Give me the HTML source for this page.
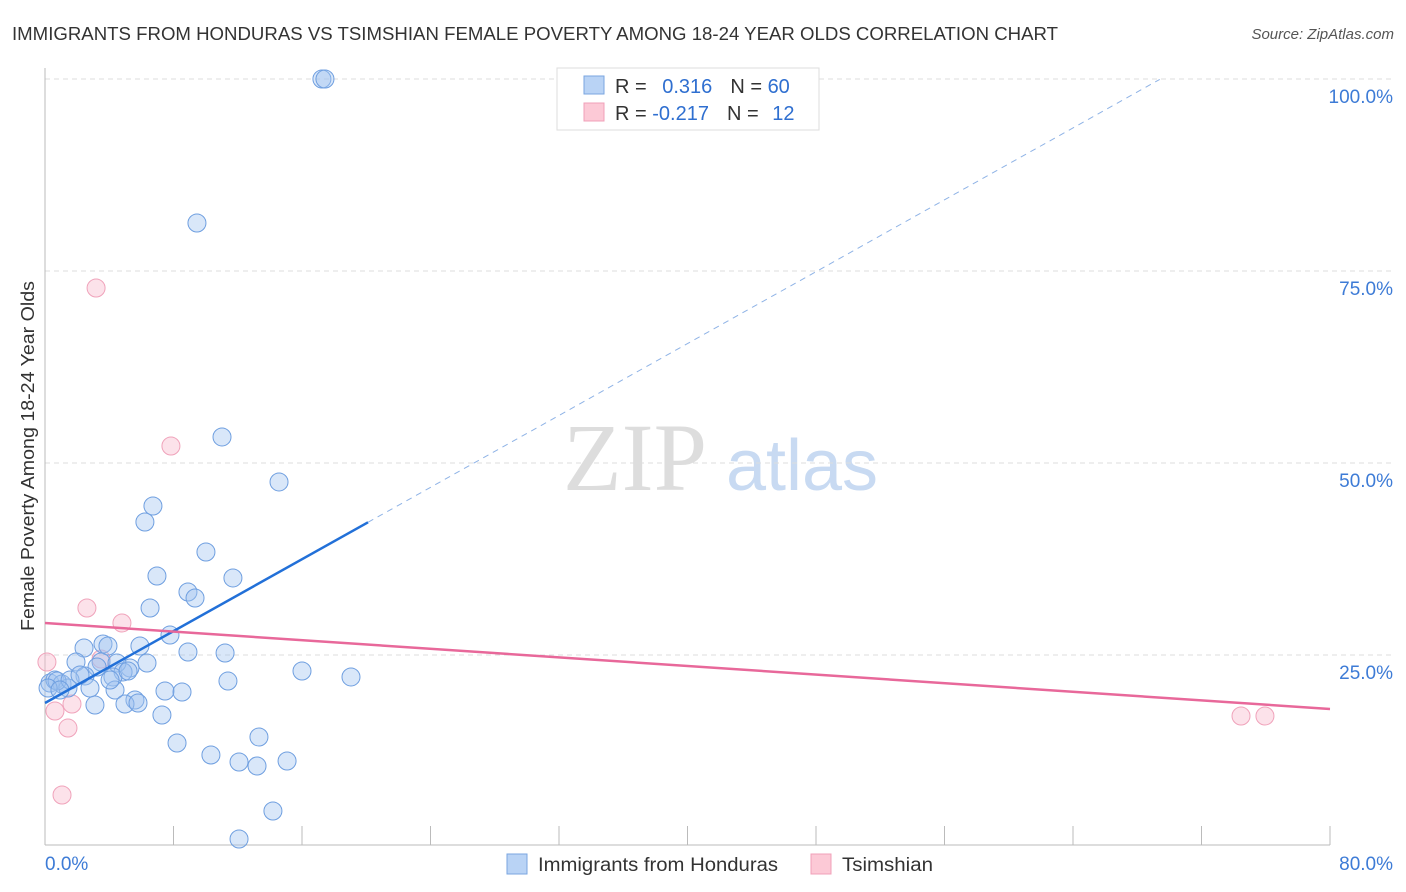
<!DOCTYPE html>
<html><head><meta charset="utf-8"><style>
body{margin:0;background:#fff;font-family:"Liberation Sans",sans-serif;}
</style></head><body>
<svg id="chart" width="1406" height="892" xmlns="http://www.w3.org/2000/svg" style="display:block">
<text x="12" y="40" font-size="18" fill="#333" textLength="1046" lengthAdjust="spacingAndGlyphs">IMMIGRANTS FROM HONDURAS VS TSIMSHIAN FEMALE POVERTY AMONG 18-24 YEAR OLDS CORRELATION CHART</text>
<text x="1394" y="39" font-size="15" fill="#555" font-style="italic" text-anchor="end">Source: ZipAtlas.com</text>
<text x="635" y="490" font-size="96" fill="#ddd" font-family="Liberation Serif" text-anchor="middle">ZIP</text>
<text x="802" y="490" font-size="72" fill="#c8daf2" text-anchor="middle">atlas</text>
<g id="grid"></g><g id="axes"></g><g id="marks"></g>
<text transform="translate(34,456) rotate(-90)" font-size="18" fill="#333" text-anchor="middle" textLength="350" lengthAdjust="spacingAndGlyphs">Female Poverty Among 18-24 Year Olds</text>
<g>
<rect x="557" y="68" width="262" height="62" fill="#fff" stroke="#ddd"/>
<rect x="584" y="76" width="20" height="18" fill="#b9d3f5" stroke="#7aa6e0"/>
<rect x="584" y="103" width="20" height="18" fill="#fcc9d6" stroke="#f0a0b8"/>
<text x="615" y="93" font-size="20" fill="#333">R = <tspan fill="#2f6fd0" dx="10">0.316</tspan><tspan dx="18" fill="#333">N = </tspan><tspan fill="#2f6fd0">60</tspan></text>
<text x="615" y="120" font-size="20" fill="#333">R = <tspan fill="#2f6fd0">-0.217</tspan><tspan dx="18" fill="#333">N = </tspan><tspan fill="#2f6fd0" dx="8">12</tspan></text>
</g>
<g>
<rect x="507" y="854" width="20" height="20" fill="#b9d3f5" stroke="#7aa6e0"/>
<text x="538" y="871" font-size="19" fill="#333" textLength="240" lengthAdjust="spacingAndGlyphs">Immigrants from Honduras</text>
<rect x="811" y="854" width="20" height="20" fill="#fcc9d6" stroke="#f0a0b8"/>
<text x="842" y="871" font-size="19" fill="#333" textLength="91" lengthAdjust="spacingAndGlyphs">Tsimshian</text>
</g>
</svg>
<script>
const blueX=[17.24,17.43,9.46,11.02,14.57,6.72,6.22,10.02,11.70,6.97,8.90,9.34,6.54,7.78,5.91,2.43,3.61,3.92,8.90,11.21,1.93,3.49,6.35,5.29,4.48,4.86,3.24,2.49,4.23,5.17,16.00,19.05,11.39,0.31,0.62,1.06,1.43,0.75,0.19,2.80,4.36,7.47,8.53,5.60,4.98,5.79,3.11,7.28,8.22,10.33,13.32,12.08,13.20,15.07,14.19,12.08,1.56,0.93,4.05,2.18];
const blueY=[100,100,81.25,53.39,47.53,44.40,42.32,38.41,35.03,35.29,33.20,32.42,31.12,27.60,26.17,25.91,26.43,26.17,25.39,25.26,24.09,24.09,23.96,23.31,23.96,22.79,23.44,22.27,22.14,22.92,22.92,22.14,21.61,21.35,21.74,21.22,20.70,21.61,20.70,20.70,20.44,20.31,20.18,19.14,18.62,18.75,18.49,17.19,13.54,11.98,14.32,11.07,10.55,11.20,4.69,1.04,21.74,20.44,21.74,22.40];
const pinkX=[3.18,7.84,2.61,4.79,0.12,3.49,0.62,1.68,1.43,1.06,74.46,75.95];
const pinkY=[72.79,52.21,31.12,29.17,24.09,24.48,17.71,18.62,15.49,6.77,17.06,17.06];
const yTicks=[25,50,75,100];
const yTickLabels=["25.0%","50.0%","75.0%","100.0%"];
const blueTrend=[18.75,1.17]; // intercept, slope
const pinkTrend=[29.17,-0.14];
const blueSolidEnd=20.11, blueDashEnd=69.4;
const xs=v=>45+v/80*1285, ys=v=>847-v*7.68;
const NS="http://www.w3.org/2000/svg";
function mk(tag,attrs,parent){const e=document.createElementNS(NS,tag);for(const k in attrs)e.setAttribute(k,attrs[k]);parent.appendChild(e);return e;}
const grid=document.getElementById('grid'),axes=document.getElementById('axes'),marks=document.getElementById('marks');
yTicks.forEach((t,i)=>{
 const l=mk('line',{x1:45,x2:1395,y1:ys(t),y2:ys(t),stroke:'#ddd','stroke-dasharray':'5,4'},grid);
 
 
 const tx=mk('text',{x:1393,y:ys(t)+24,'font-size':19,fill:'#3d7bd6','text-anchor':'end'},axes);
 tx.textContent=yTickLabels[i];
 
 
});
const la=mk('line',{x1:45,x2:45,y1:68,y2:845,stroke:'#bbb'},axes);


const ba=mk('line',{x1:45,x2:1330,y1:845,y2:845,stroke:'#bbb'},axes);


for(let v=0;v<=80;v+=8){
 const t=mk('line',{x1:xs(v),x2:xs(v),y1:826,y2:845,stroke:'#bbb'},axes);
 
 
}
const x0=mk('text',{x:45,y:870,'font-size':19,fill:'#3d7bd6'},axes);x0.textContent='0.0%';


const x1=mk('text',{x:1393,y:870,'font-size':19,fill:'#3d7bd6','text-anchor':'end'},axes);x1.textContent='80.0%';


pinkX.forEach((x,i)=>{
 const c=mk('circle',{cx:xs(x),cy:ys(pinkY[i]),r:9,fill:'rgba(248,182,202,0.4)',stroke:'#f0a3bb','stroke-width':1},marks);
 
 
});
blueX.forEach((x,i)=>{
 const c=mk('circle',{cx:xs(x),cy:ys(blueY[i]),r:9,fill:'rgba(160,196,240,0.4)',stroke:'#6f9fe0','stroke-width':1},marks);
 
 
});
const bt=v=>blueTrend[0]+blueTrend[1]*v, pt=v=>pinkTrend[0]+pinkTrend[1]*v;
const bs=mk('line',{x1:xs(0),y1:ys(bt(0)),x2:xs(blueSolidEnd),y2:ys(bt(blueSolidEnd)),stroke:'#2270d8','stroke-width':2.5},marks);


const bd=mk('line',{x1:xs(blueSolidEnd),y1:ys(bt(blueSolidEnd)),x2:xs(blueDashEnd),y2:ys(Math.min(100,bt(blueDashEnd))),stroke:'#8fb3e6','stroke-width':1,'stroke-dasharray':'6,5'},marks);


const pl=mk('line',{x1:xs(0),y1:ys(pt(0)),x2:xs(80),y2:ys(pt(80)),stroke:'#e8689a','stroke-width':2.5},marks);


</script>
</body></html>
